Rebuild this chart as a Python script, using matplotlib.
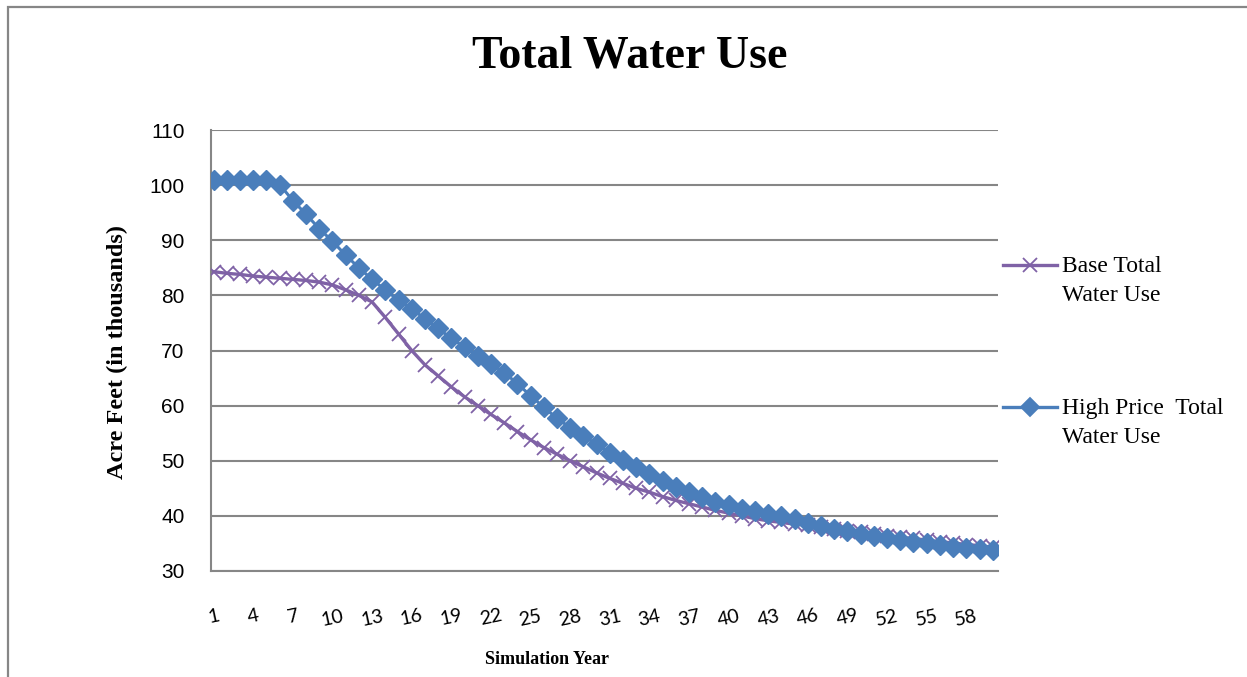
import numpy as np
import matplotlib
matplotlib.use("Agg")
import matplotlib.pyplot as plt
from matplotlib.patches import Rectangle
from matplotlib.lines import Line2D

# данные
years = np.arange(1, 61)

base_total = [84.3, 84.0, 83.8, 83.5, 83.3, 83.1, 82.9, 82.7, 82.4, 81.9,
              81.0, 80.0, 78.8, 76.0, 73.0, 70.0, 67.4, 65.4, 63.4, 61.6,
              60.0, 58.4, 56.9, 55.3, 53.8, 52.4, 51.2, 50.0, 48.9, 47.8,
              46.8, 45.9, 45.0, 44.3, 43.5, 42.8, 42.2, 41.6, 41.0, 40.5,
              40.0, 39.5, 39.1, 38.8, 38.5, 38.3, 38.0, 37.6, 37.3, 37.0,
              36.7, 36.4, 36.1, 35.9, 35.6, 35.3, 35.1, 34.8, 34.6, 34.3]

high_price_total = [101.0, 101.0, 101.0, 101.0, 101.0, 100.1, 97.2, 94.7, 92.1, 89.8,
                    87.3, 85.0, 82.9, 81.0, 79.1, 77.5, 75.8, 74.0, 72.2, 70.6,
                    69.0, 67.6, 66.0, 64.0, 61.8, 59.7, 57.7, 56.0, 54.5, 53.0,
                    51.4, 50.1, 48.9, 47.6, 46.4, 45.3, 44.3, 43.4, 42.6, 41.9,
                    41.3, 40.8, 40.4, 40.0, 39.4, 38.7, 38.2, 37.7, 37.2, 36.8,
                    36.4, 36.0, 35.6, 35.3, 35.0, 34.7, 34.4, 34.2, 34.0, 33.8]

x_ticks = np.arange(1, 61, 3)
y_ticks = np.arange(30, 111, 10)

purple = '#7F62A6'
blue = '#4A7EBB'
grey = '#868686'

fig = plt.figure(figsize=(12.47, 6.77), dpi=100)
W, H = 1247, 677

# рамка области диаграммы
fig.add_artist(Rectangle((8 / W, -0.1), 1.2, 1.1 - 7 / H, transform=fig.transFigure,
                         fill=False, edgecolor=grey, linewidth=1.6))

ax = fig.add_axes([211 / W, 1 - 571 / H, (998 - 211) / W, (571 - 130) / H])

ax.plot(years, base_total, color=purple, linewidth=2.4, marker='x',
        markersize=10.5, markeredgewidth=1.3, zorder=3)
ax.plot(years, high_price_total, color=blue, linewidth=2.2, marker='D',
        markersize=10, zorder=4)

ax.set_xlim(0.8, 60.4)
ax.set_ylim(30, 110)
ax.set_yticks(y_ticks)
ax.set_xticks(x_ticks)
ax.set_xticklabels([str(v) for v in x_ticks], rotation=12, fontsize=14,
                   family='Lato')
ax.set_yticklabels([str(v) for v in y_ticks], fontsize=15, family='Liberation Sans')
ax.tick_params(axis='both', length=0)
ax.tick_params(axis='x', pad=26)
ax.tick_params(axis='y', pad=19)

ax.grid(axis='y', color=grey, linewidth=1.5)
ax.set_axisbelow(True)
for s in ['top', 'right']:
    ax.spines[s].set_visible(False)
for s in ['left', 'bottom']:
    ax.spines[s].set_color(grey)
    ax.spines[s].set_linewidth(1.5)

fig.text(630 / W, 1 - 57 / H, 'Total Water Use', ha='center', va='center',
         fontsize=33, fontweight='bold', family='Liberation Serif')
fig.text(117 / W, 1 - 352 / H, 'Acre Feet (in thousands)', ha='center', va='center',
         rotation=90, fontsize=17.5, fontweight='bold', family='Liberation Serif')
fig.text(547 / W, 1 - 660 / H, 'Simulation Year', ha='center', va='center',
         fontsize=13, fontweight='bold', family='Liberation Serif')

# легенда вручную, чтобы маркер стоял на первой строке
entries = [('Base Total\nWater Use', purple, 'x', 265),
           ('High Price  Total\nWater Use', blue, 'D', 407)]
for label, col, mk, ypix in entries:
    yf = 1 - ypix / H
    fig.add_artist(Line2D([1003 / W, 1057 / W], [yf, yf], transform=fig.transFigure,
                          color=col, linewidth=2.4))
    fig.add_artist(Line2D([1030 / W], [yf], transform=fig.transFigure, color=col,
                          marker=mk, markersize=10 if mk == 'x' else 9,
                          markeredgewidth=1.3, linestyle='none'))
    fig.text(1062 / W, yf + 9 / H, label, ha='left', va='top', fontsize=17,
             family='Liberation Serif', linespacing=1.5)

fig.savefig('out.png', dpi=100)
